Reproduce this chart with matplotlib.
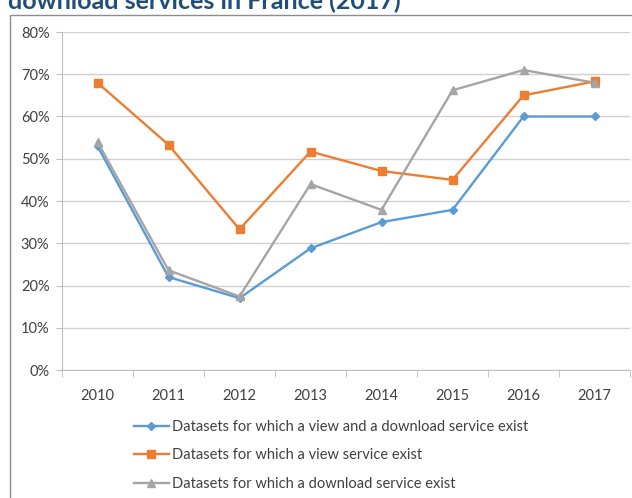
import matplotlib
matplotlib.use("Agg")
import matplotlib.pyplot as plt
from matplotlib.patches import Rectangle
from matplotlib.ticker import FuncFormatter, MultipleLocator, FixedLocator

years = ["2010", "2011", "2012", "2013", "2014", "2015", "2016", "2017"]
view_and_download = [53, 22, 17, 28.8, 35, 37.9, 60, 60]
view_only = [68, 53.3, 33.3, 51.7, 47.1, 45, 65, 68.3]
download_only = [54, 23.6, 17.4, 44, 37.9, 66.2, 71, 68]
labels = [
    "Datasets for which a view and a download service exist",
    "Datasets for which a view service exist",
    "Datasets for which a download service exist",
]
title = "download services in France (2017)"

plt.rcParams['font.family'] = ['Lato', 'DejaVu Sans']

fig = plt.figure(figsize=(6.32, 4.98), dpi=100)
W, H = 632, 498

# outer chart frame
fig.patches.append(Rectangle((10 / W, -0.1), 1.0, 1 - 15 / H + 0.1, transform=fig.transFigure,
                             fill=False, edgecolor='#8c8c8c', linewidth=1.0))
fig.text(8 / W, 1 - 9 / H, title, color='#1F4E79', fontsize=18, fontweight='bold',
         ha='left', va='baseline')

ax = fig.add_axes([62 / W, 1 - 370 / H, (630 - 62) / W, (370 - 32) / H])
x = list(range(len(years)))
ax.plot(x, view_and_download, color='#5B9BD5', lw=1.7, marker='D', ms=4, label=labels[0])
ax.plot(x, view_only, color='#ED7D31', lw=1.7, marker='s', ms=5.5, label=labels[1])
ax.plot(x, download_only, color='#A5A5A5', lw=1.7, marker='^', ms=6, label=labels[2])

ax.set_xlim(-0.5, len(years) - 0.5)
ax.set_ylim(0, 80)
ax.yaxis.set_major_locator(MultipleLocator(10))
ax.yaxis.set_major_formatter(FuncFormatter(lambda v, p: f"{int(v)}%"))
ax.grid(axis='y', color='#d0d0d0', linewidth=1.0)
ax.set_axisbelow(True)
for s in ['top', 'right']:
    ax.spines[s].set_visible(False)
ax.spines['left'].set_color('#bfbfbf')
ax.spines['bottom'].set_color('#bfbfbf')
ax.set_xticks(x)
ax.set_xticklabels(years)
ax.xaxis.set_minor_locator(FixedLocator([i - 0.5 for i in range(len(years) + 1)]))
ax.tick_params(axis='x', which='major', length=0, pad=14, labelsize=10.5, colors='#404040')
ax.tick_params(axis='x', which='minor', length=5, color='#bfbfbf')
ax.tick_params(axis='y', length=4, color='#bfbfbf', labelsize=10.5, labelcolor='#404040', pad=5)

leg = fig.legend(loc='upper left', bbox_to_anchor=(128 / W, 1 - 414 / H), frameon=False,
                 fontsize=10.5, handlelength=2.4, handletextpad=0.2, labelspacing=1.0,
                 borderaxespad=0)
for t in leg.get_texts():
    t.set_color('#404040')

fig.savefig("out.png", dpi=100)
